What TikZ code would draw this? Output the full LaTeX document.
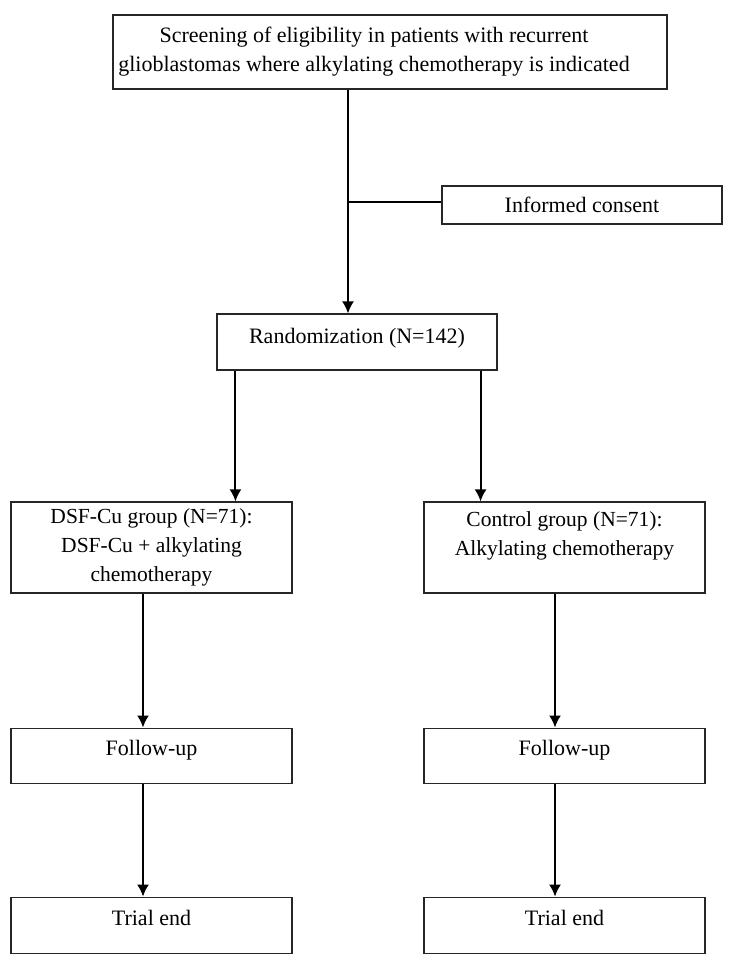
\documentclass[tikz,border=0pt]{standalone}
\usepackage{fontspec}
\setmainfont{Liberation Serif}
\usetikzlibrary{arrows.meta}
\usetikzlibrary{positioning}
\tikzstyle{widebox} = [rectangle, minimum width=554pt, minimum height=74pt, inner sep=0pt, align=center, draw=black!85, line width=1.1pt, font=\fontsize{22}{29}\selectfont]
\tikzstyle{smallbox} = [rectangle, minimum width=280pt, inner sep=0pt, align=center, draw=black!85, line width=1.1pt, font=\fontsize{22}{29}\selectfont]
\tikzstyle{groupbox} = [rectangle, minimum width=281pt, minimum height=91pt, inner sep=0pt, align=center, draw=black!85, line width=1.1pt, font=\fontsize{21.5}{29}\selectfont]
\tikzstyle{stagebox} = [rectangle, minimum width=281pt, minimum height=55pt, inner sep=0pt, text depth=15pt, align=center, draw=black!85, line width=1.1pt, font=\fontsize{22}{29}\selectfont]
\tikzstyle{arrow} = [line width=2pt,->,>={Latex[length=12pt,width=12pt]}]
\tikzstyle{line} = [line width=2pt]

\begin{document}
\begin{tikzpicture}[x=1pt,y=-1pt]
	\useasboundingbox (0,0) rectangle (735,964);
	\node (screening) [widebox] at (390,52) {Screening of eligibility in patients with recurrent\hspace*{32pt}\\glioblastomas where alkylating chemotherapy is indicated\hspace*{32pt}};
	\node (consent) [smallbox, minimum height=38pt] at (582,205) {Informed consent};
	\node (randomization) [smallbox, minimum height=56pt, text depth=12pt] at (357,342) {Randomization (N=142)};
	\node (dsf_group) [groupbox] at (151.5,547.5) {DSF-Cu group (N=71):\\DSF-Cu + alkylating\\chemotherapy};
	\node (control_group) [groupbox, text depth=28pt] at (564.5,547.5) {Control group (N=71):\\Alkylating chemotherapy};
	\node (dsf_followup) [stagebox, below=134pt of dsf_group] {Follow-up};
	\node (control_followup) [stagebox, below=134pt of control_group] {Follow-up};
	\node (dsf_end) [stagebox, minimum height=56pt, below=113pt of dsf_followup] {Trial end};
	\node (control_end) [stagebox, minimum height=56pt, below=113pt of control_followup] {Trial end};

	\coordinate (screening_out) at ([xshift=-42pt]screening.south);
	\coordinate (consent_join) at ([yshift=3pt]screening_out |- consent.west);
	\coordinate (dsf_out) at ([xshift=19pt]randomization.south west);
	\coordinate (control_out) at ([xshift=-17pt]randomization.south east);

	\draw [arrow] (screening_out) -- (screening_out |- randomization.north);
	\draw [line] (consent_join) -- (consent_join -| consent.west);

	\draw [arrow] (dsf_out) -- (dsf_out |- dsf_group.north);
	\draw [arrow] (control_out) -- (control_out |- control_group.north);

	\draw [arrow] ([xshift=-8.5pt]dsf_group.south) -- ([xshift=-8.5pt]dsf_followup.north);
	\draw [arrow] ([xshift=-9.5pt]control_group.south) -- ([xshift=-9.5pt]control_followup.north);
	\draw [arrow] ([xshift=-8.5pt]dsf_followup.south) -- ([xshift=-8.5pt]dsf_end.north);
	\draw [arrow] ([xshift=-9.5pt]control_followup.south) -- ([xshift=-9.5pt]control_end.north);

\end{tikzpicture}
\end{document}
